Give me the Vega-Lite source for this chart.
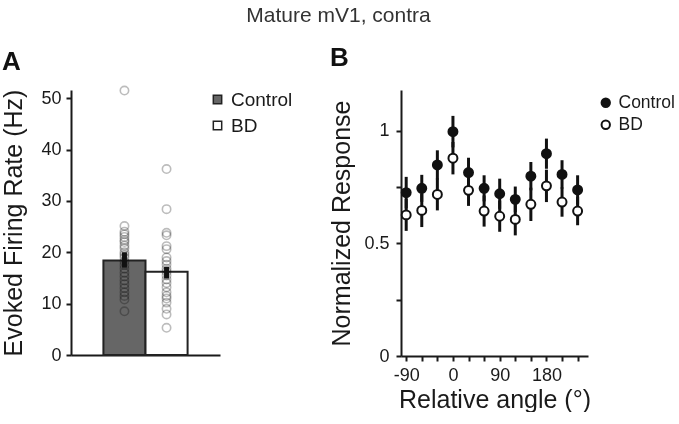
{
  "$schema": "https://vega.github.io/schema/vega-lite/v6.json",
  "title": {"text": "Mature mV1, contra", "fontSize": 21, "font": "Liberation Sans", "fontWeight": "normal", "color": "#333333", "anchor": "middle", "offset": 19},
  "padding": {"left": 1, "top": 5, "right": 0, "bottom": 0},
  "spacing": 36,
  "config": {
    "font": "Liberation Sans",
    "view": {"stroke": null},
    "axis": {"domainColor": "#1a1a1a", "domainWidth": 2, "ticks": true, "tickColor": "#1a1a1a", "tickWidth": 2, "tickSize": 5, "labelColor": "#1a1a1a", "titleColor": "#1a1a1a", "labelFontSize": 18, "titleFontSize": 25, "titleFontWeight": "normal", "grid": false, "labelFont": "Liberation Sans", "titleFont": "Liberation Sans", "labelOverlap": false},
    "axisX": {"labelOverlap": false, "labelFlush": false},
    "axisQuantitative": {"labelOverlap": false},
    "legend": {"labelFontSize": 19, "labelColor": "#1a1a1a", "labelFont": "Liberation Sans"}
  },
  "resolve": {"scale": {"fill": "independent", "color": "independent", "stroke": "independent"}},
  "hconcat": [
    {
      "width": 149,
      "height": 265,
      "title": {"text": "A", "fontSize": 26, "fontWeight": "bold", "anchor": "start", "frame": "bounds", "color": "#111111", "offset": 8},
      "layer": [
        {
          "data": {"values": [
            {"group": "Control", "mean": 18.4, "lo": 17.0, "hi": 20.0},
            {"group": "BD", "mean": 16.2, "lo": 14.9, "hi": 17.2}
          ]},
          "mark": {"type": "bar", "stroke": "#222222", "strokeWidth": 2},
          "encoding": {
            "x": {"field": "group", "type": "nominal", "sort": ["Control", "BD"], "scale": {"paddingInner": 0, "paddingOuter": 0.77}, "axis": {"labels": false, "ticks": false, "title": null}},
            "y": {"field": "mean", "type": "quantitative", "title": "Evoked Firing Rate (Hz)", "scale": {"domain": [0, 51.6], "nice": false}, "axis": {"values": [0, 10, 20, 30, 40, 50], "labelPadding": 5, "titlePadding": 14}},
            "fill": {"field": "group", "type": "nominal", "scale": {"domain": ["Control", "BD"], "range": ["#666666", "#ffffff"]},
              "legend": {"title": null, "orient": "none", "legendX": 137, "legendY": 0, "symbolType": "square", "symbolSize": 70, "symbolStrokeColor": "#222222", "symbolStrokeWidth": 1.5, "rowPadding": 6, "labelOffset": 4}}
          }
        },
        {
          "data": {"values": [
            {"group": "Control", "rate": 51.5}, {"group": "Control", "rate": 25.1}, {"group": "Control", "rate": 24.0}, {"group": "Control", "rate": 23.5},
            {"group": "Control", "rate": 23.0}, {"group": "Control", "rate": 22.4}, {"group": "Control", "rate": 22.0}, {"group": "Control", "rate": 21.3},
            {"group": "Control", "rate": 20.8}, {"group": "Control", "rate": 20.0}, {"group": "Control", "rate": 19.5}, {"group": "Control", "rate": 19.0},
            {"group": "Control", "rate": 18.2}, {"group": "Control", "rate": 17.5}, {"group": "Control", "rate": 16.8}, {"group": "Control", "rate": 16.0},
            {"group": "Control", "rate": 15.3}, {"group": "Control", "rate": 14.5}, {"group": "Control", "rate": 13.8}, {"group": "Control", "rate": 13.0},
            {"group": "Control", "rate": 12.2}, {"group": "Control", "rate": 11.5}, {"group": "Control", "rate": 10.8}, {"group": "Control", "rate": 8.5},
            {"group": "BD", "rate": 36.2}, {"group": "BD", "rate": 28.4}, {"group": "BD", "rate": 23.8}, {"group": "BD", "rate": 23.3},
            {"group": "BD", "rate": 21.2}, {"group": "BD", "rate": 20.6}, {"group": "BD", "rate": 19.0}, {"group": "BD", "rate": 18.3},
            {"group": "BD", "rate": 17.6}, {"group": "BD", "rate": 16.8}, {"group": "BD", "rate": 16.2}, {"group": "BD", "rate": 15.5},
            {"group": "BD", "rate": 14.7}, {"group": "BD", "rate": 14.0}, {"group": "BD", "rate": 13.2}, {"group": "BD", "rate": 12.2},
            {"group": "BD", "rate": 11.5}, {"group": "BD", "rate": 11.0}, {"group": "BD", "rate": 10.2}, {"group": "BD", "rate": 9.0},
            {"group": "BD", "rate": 7.9}, {"group": "BD", "rate": 5.3}
          ]},
          "mark": {"type": "point", "shape": "circle", "size": 70, "strokeWidth": 1.6, "filled": false, "color": "#a0a0a0", "blend": "multiply"},
          "encoding": {
            "x": {"field": "group", "type": "nominal", "sort": ["Control", "BD"]},
            "y": {"field": "rate", "type": "quantitative", "title": "Evoked Firing Rate (Hz)"}
          }
        },
        {
          "data": {"values": [
            {"group": "Control", "mean": 18.4, "lo": 17.0, "hi": 20.0},
            {"group": "BD", "mean": 16.2, "lo": 14.9, "hi": 17.2}
          ]},
          "mark": {"type": "rule", "strokeWidth": 5, "color": "#111111"},
          "encoding": {
            "x": {"field": "group", "type": "nominal", "sort": ["Control", "BD"]},
            "y": {"field": "lo", "type": "quantitative", "title": "Evoked Firing Rate (Hz)"},
            "y2": {"field": "hi"}
          }
        }
      ]
    },
    {
      "width": 187,
      "height": 266,
      "title": {"text": "B", "fontSize": 26, "fontWeight": "bold", "anchor": "start", "frame": "bounds", "color": "#111111", "offset": 19},
      "data": {"values": [
        {"angle": -90, "group": "Control", "resp": 0.726, "lo": 0.656, "hi": 0.796},
        {"angle": -60, "group": "Control", "resp": 0.745, "lo": 0.685, "hi": 0.805},
        {"angle": -30, "group": "Control", "resp": 0.849, "lo": 0.784, "hi": 0.914},
        {"angle": 0, "group": "Control", "resp": 0.997, "lo": 0.927, "hi": 1.067},
        {"angle": 30, "group": "Control", "resp": 0.815, "lo": 0.749, "hi": 0.881},
        {"angle": 60, "group": "Control", "resp": 0.745, "lo": 0.687, "hi": 0.803},
        {"angle": 90, "group": "Control", "resp": 0.721, "lo": 0.654, "hi": 0.788},
        {"angle": 120, "group": "Control", "resp": 0.696, "lo": 0.639, "hi": 0.753},
        {"angle": 150, "group": "Control", "resp": 0.799, "lo": 0.736, "hi": 0.862},
        {"angle": 180, "group": "Control", "resp": 0.899, "lo": 0.832, "hi": 0.966},
        {"angle": 210, "group": "Control", "resp": 0.807, "lo": 0.744, "hi": 0.870},
        {"angle": 240, "group": "Control", "resp": 0.738, "lo": 0.673, "hi": 0.803},
        {"angle": -90, "group": "BD", "resp": 0.627, "lo": 0.556, "hi": 0.698},
        {"angle": -60, "group": "BD", "resp": 0.647, "lo": 0.573, "hi": 0.721},
        {"angle": -30, "group": "BD", "resp": 0.718, "lo": 0.647, "hi": 0.789},
        {"angle": 0, "group": "BD", "resp": 0.879, "lo": 0.807, "hi": 0.951},
        {"angle": 30, "group": "BD", "resp": 0.736, "lo": 0.667, "hi": 0.805},
        {"angle": 60, "group": "BD", "resp": 0.644, "lo": 0.575, "hi": 0.713},
        {"angle": 90, "group": "BD", "resp": 0.621, "lo": 0.552, "hi": 0.690},
        {"angle": 120, "group": "BD", "resp": 0.607, "lo": 0.536, "hi": 0.678},
        {"angle": 150, "group": "BD", "resp": 0.674, "lo": 0.600, "hi": 0.748},
        {"angle": 180, "group": "BD", "resp": 0.756, "lo": 0.684, "hi": 0.828},
        {"angle": 210, "group": "BD", "resp": 0.684, "lo": 0.619, "hi": 0.749},
        {"angle": 240, "group": "BD", "resp": 0.644, "lo": 0.581, "hi": 0.707}
      ]},
      "layer": [
        {
          "mark": {"type": "rule", "strokeWidth": 3, "color": "#111111"},
          "encoding": {
            "x": {"field": "angle", "type": "quantitative", "title": "Relative angle (°)", "scale": {"domain": [-100, 260], "nice": false, "zero": false},
              "axis": {"values": [-90, -60, -30, 0, 30, 60, 90, 120, 150, 180, 210, 240], "labelExpr": "datum.value % 90 == 0 ? '' + datum.value : ''", "labelOverlap": false, "labelFlush": false, "labelBound": false, "labelSeparation": 0, "labelPadding": 5, "titlePadding": 3}},
            "y": {"field": "lo", "type": "quantitative", "title": "Normalized Response", "scale": {"domain": [0, 1.182], "nice": false},
              "axis": {"values": [0, 0.25, 0.5, 0.75, 1], "labelExpr": "datum.value == 0.25 || datum.value == 0.75 ? '' : '' + datum.value", "labelOverlap": false, "labelFlush": false, "labelPadding": 7, "titlePadding": 9}},
            "y2": {"field": "hi"}
          }
        },
        {
          "mark": {"type": "circle", "size": 80, "stroke": "#111111", "strokeWidth": 2, "opacity": 1},
          "encoding": {
            "x": {"field": "angle", "type": "quantitative", "title": "Relative angle (°)",
              "axis": {"values": [-90, -60, -30, 0, 30, 60, 90, 120, 150, 180, 210, 240], "labelExpr": "datum.value % 90 == 0 ? '' + datum.value : ''", "labelOverlap": false, "labelFlush": false, "labelBound": false, "labelSeparation": 0, "labelPadding": 5, "titlePadding": 3}},
            "y": {"field": "resp", "type": "quantitative", "title": "Normalized Response",
              "axis": {"values": [0, 0.25, 0.5, 0.75, 1], "labelExpr": "datum.value == 0.25 || datum.value == 0.75 ? '' : '' + datum.value", "labelOverlap": false, "labelFlush": false, "labelPadding": 7, "titlePadding": 9}},
            "fill": {"field": "group", "type": "nominal", "scale": {"domain": ["Control", "BD"], "range": ["#111111", "#ffffff"]},
              "legend": {"title": null, "orient": "none", "legendX": 196, "legendY": 4, "symbolType": "circle", "symbolSize": 70, "symbolStrokeColor": "#111111", "symbolStrokeWidth": 2, "rowPadding": 3, "labelOffset": 4, "labelFontSize": 17.5}}
          }
        }
      ]
    }
  ]
}
